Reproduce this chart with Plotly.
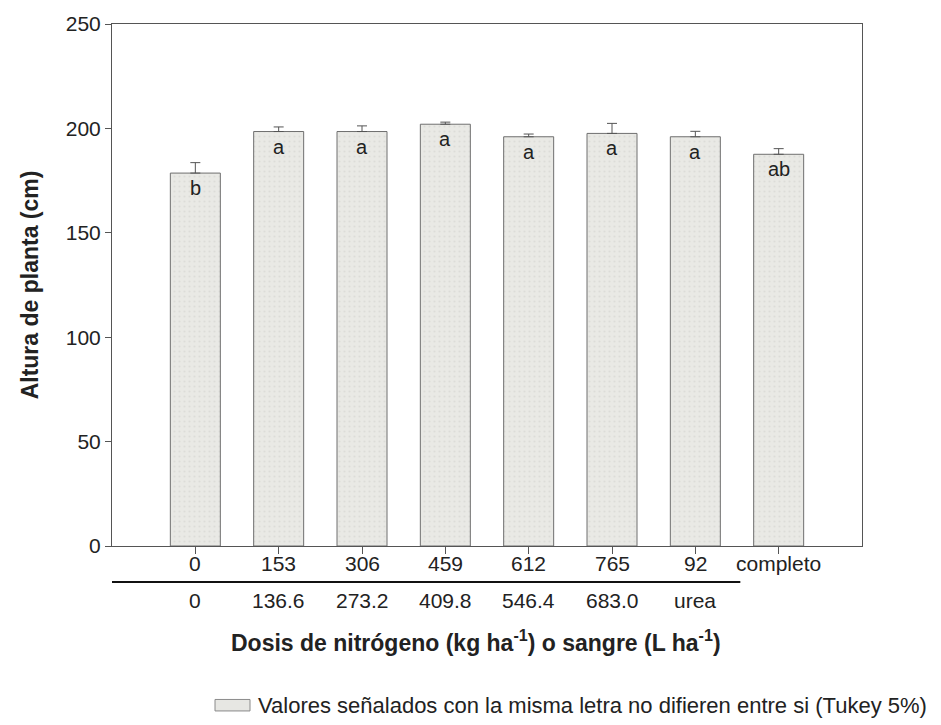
import plotly.graph_objects as go

# ---- data ----
dose_labels = ["0", "153", "306", "459", "612", "765", "92", "completo"]
blood_labels = ["0", "136.6", "273.2", "409.8", "546.4", "683.0", "urea"]
heights = [178.6, 198.5, 198.5, 202.0, 196.0, 197.6, 196.0, 187.6]
errors = [5.0, 2.2, 2.7, 1.0, 1.3, 4.8, 2.6, 2.7]
letters = ["b", "a", "a", "a", "a", "a", "a", "ab"]
y_ticks = [0, 50, 100, 150, 200, 250]

FONT = "Liberation Sans, Arial, sans-serif"
TXT = "#222222"
positions = list(range(1, len(dose_labels) + 1))

fig = go.Figure()
fig.add_trace(go.Bar(
    x=positions,
    y=heights,
    width=0.6,
    marker=dict(
        color="#e7e7e3",
        line=dict(color="#6f6f6f", width=1),
        pattern=dict(shape=".", fgcolor="#cfcfcb", bgcolor="#e9e9e5", size=5, solidity=0.15),
    ),
    error_y=dict(type="data", symmetric=False, array=errors,
                 arrayminus=[0] * len(errors), color="#555555", thickness=1, width=5),
    showlegend=False,
))

annotations = []
for xp, h, lt in zip(positions, heights, letters):
    annotations.append(dict(x=xp, y=h, xref="x", yref="y", text=lt, showarrow=False,
                            yanchor="middle", yshift=-15,
                            font=dict(family=FONT, size=20, color=TXT)))

# first row of x labels (nitrógeno)
for xp, lab in zip(positions, dose_labels):
    annotations.append(dict(x=xp, y=-0.033, xref="x", yref="paper", text=lab, showarrow=False,
                            yanchor="middle", font=dict(family=FONT, size=21, color=TXT)))

# second row of x labels (sangre)
for xp, lab in zip(positions, blood_labels):
    annotations.append(dict(x=xp, y=-0.104, xref="x", yref="paper", text=lab, showarrow=False,
                            yanchor="middle", font=dict(family=FONT, size=21, color=TXT)))

# x axis title
annotations.append(dict(x=0.485, y=-0.182, xref="paper", yref="paper",
                        text="<b>Dosis de nitrógeno (kg ha<sup>-1</sup>) o sangre (L ha<sup>-1</sup>)</b>",
                        showarrow=False, yanchor="middle",
                        font=dict(family=FONT, size=23, color=TXT)))

# legend note
annotations.append(dict(x=(256 - 112) / 750, y=-0.305, xref="paper", yref="paper", showarrow=False,
                        text="Valores señalados con la misma letra no difieren entre si (Tukey 5%)",
                        xanchor="left", yanchor="middle",
                        font=dict(family=FONT, size=22, color=TXT)))

shapes = [
    # separator line between label rows
    dict(type="line", xref="x", yref="paper", x0=0, x1=7.54, y0=-0.069, y1=-0.069,
         line=dict(color="#111111", width=2)),
    # legend swatch
    dict(type="rect", xref="paper", yref="paper",
         x0=(215 - 112) / 750, x1=(250 - 112) / 750, y0=-0.294, y1=-0.316,
         fillcolor="#e7e7e3", line=dict(color="#8a8a8a", width=1)),
]

fig.update_layout(
    width=941, height=725,
    margin=dict(l=112, r=79, t=24, b=179),
    paper_bgcolor="white", plot_bgcolor="white",
    font=dict(family=FONT, size=21, color=TXT),
    annotations=annotations,
    shapes=shapes,
    xaxis=dict(
        range=[0, 9], tickmode="array", tickvals=positions, ticktext=dose_labels,
        showticklabels=False,
        showline=True, linecolor="#555555", linewidth=1, mirror=True,
        ticks="outside", ticklen=7, tickcolor="#555555",
        showgrid=False, zeroline=False,
    ),
    yaxis=dict(
        range=[0, 250], tickmode="array", tickvals=y_ticks,
        showline=True, linecolor="#555555", linewidth=1, mirror=True,
        ticks="outside", ticklen=6, tickcolor="#555555",
        showgrid=False, zeroline=False, tickfont=dict(size=21),
        title=dict(text="<b>Altura de planta (cm)</b>", font=dict(size=23), standoff=20),
    ),
)

fig.write_html("out.html")
